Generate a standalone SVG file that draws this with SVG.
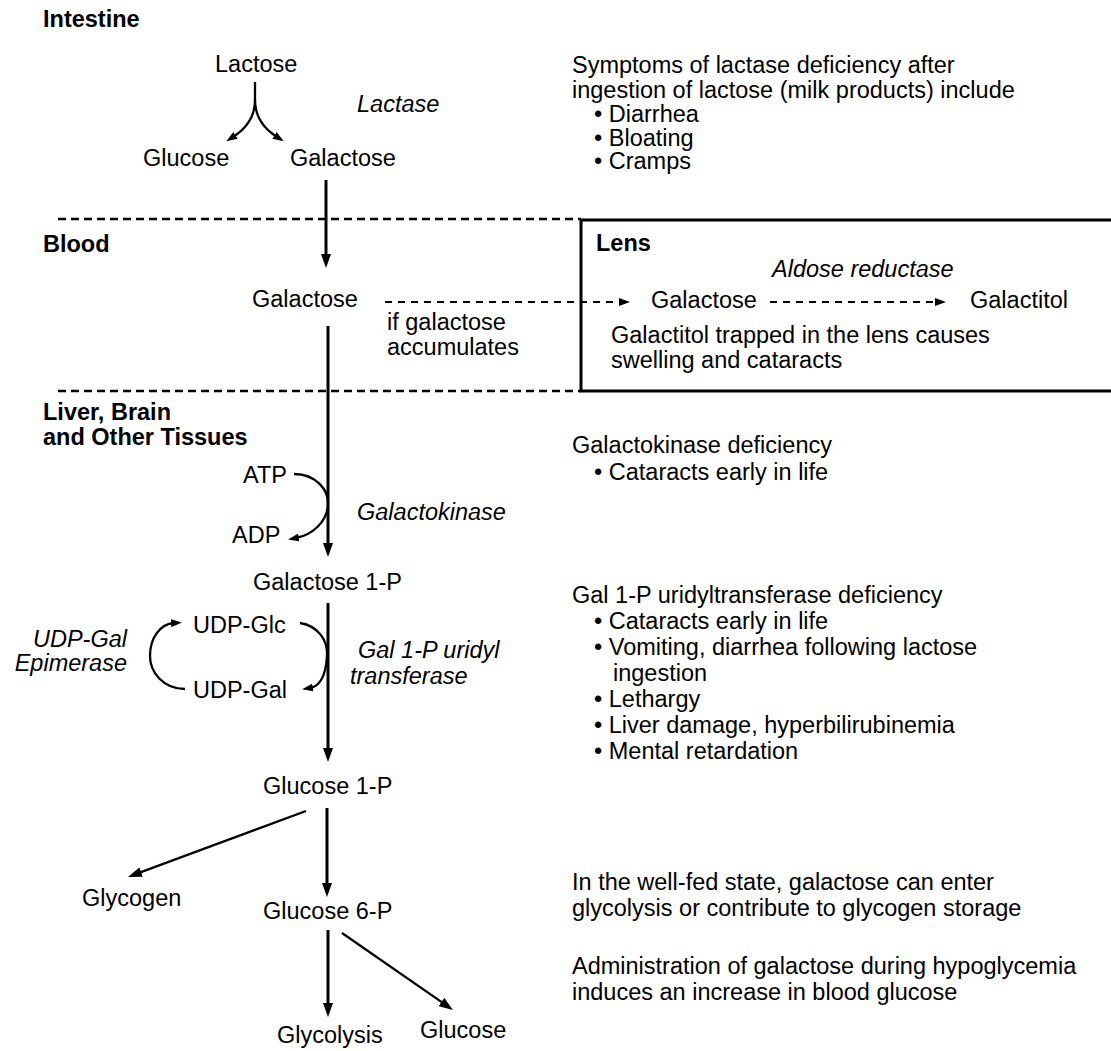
<svg xmlns="http://www.w3.org/2000/svg" width="1111" height="1051" viewBox="0 0 1111 1051">
<style>
text{font-family:"Liberation Sans",Arial,Helvetica,sans-serif;font-size:23.5px;fill:#000}
.b{font-weight:bold}
.i{font-style:italic}
.ln{stroke:#000;stroke-width:3;fill:none}
.thin{stroke:#000;stroke-width:2.3;fill:none}
.dash{stroke:#000;stroke-width:2.5;fill:none;stroke-dasharray:8 5}
.darr{stroke:#000;stroke-width:2.2;fill:none;stroke-dasharray:7 6}
</style>
<defs>
<marker id="ah" markerWidth="14" markerHeight="10" refX="6" refY="5" orient="auto" markerUnits="userSpaceOnUse"><path d="M0,0 L14,5 L0,10 z" fill="#000"/></marker>
<marker id="ahs" markerWidth="11" markerHeight="8" refX="3" refY="4" orient="auto" markerUnits="userSpaceOnUse"><path d="M0,0 L11,4 L0,8 z" fill="#000"/></marker>
</defs>
<rect width="1111" height="1051" fill="#fff"/>

<g id="regions">
<line class="dash" x1="58" y1="219" x2="581" y2="219"/>
<line class="dash" x1="58" y1="391" x2="581" y2="391"/>
<text class="b" x="43" y="27">Intestine</text>
<text class="b" x="43" y="252">Blood</text>
<text class="b" x="43" y="420">Liver, Brain</text>
<text class="b" x="43" y="445">and Other Tissues</text>
</g>

<g id="lens-box">
<rect x="581" y="220" width="560" height="171" fill="none" stroke="#000" stroke-width="3"/>
<text class="b" x="596" y="251">Lens</text>
<text class="i" x="772" y="277">Aldose reductase</text>
<text x="611" y="343">Galactitol trapped in the lens causes</text>
<text x="611" y="368">swelling and cataracts</text>
</g>

<g id="connectors">
<path class="thin" d="M255,82 L255,100 C255,118 244,130 233,137" marker-end="url(#ahs)"/>
<path class="thin" d="M255,100 C255,118 266,130 277,137" marker-end="url(#ahs)"/>
<line class="ln" x1="326" y1="180" x2="326" y2="260" marker-end="url(#ah)"/>
<line class="darr" x1="385" y1="302" x2="622" y2="302" marker-end="url(#ahs)"/>
<line class="darr" x1="770" y1="302" x2="938" y2="302" marker-end="url(#ahs)"/>
<line class="ln" x1="328" y1="326" x2="328" y2="549" marker-end="url(#ah)"/>
<path class="thin" d="M294,474 C316,474 329,490 328,505 C327,522 312,535 296,538" marker-end="url(#ahs)"/>
<line class="ln" x1="328" y1="603" x2="328" y2="754" marker-end="url(#ah)"/>
<path class="thin" d="M185,689 C163,689 150,672 150,656 C150,638 160,624 174,623" marker-end="url(#ahs)"/>
<path class="thin" d="M300,623 C318,626 328,640 327,656 C326,672 322,686 310,688" marker-end="url(#ahs)"/>
<line class="thin" x1="306" y1="811" x2="135.5" y2="874.2" marker-end="url(#ah)"/>
<line class="ln" x1="327" y1="808" x2="327" y2="889" marker-end="url(#ah)"/>
<line class="ln" x1="328" y1="930" x2="328" y2="1009" marker-end="url(#ah)"/>
<line class="thin" x1="342" y1="933" x2="446.4" y2="1005.4" marker-end="url(#ah)"/>
</g>

<g id="n-lactose"><text x="215" y="72">Lactose</text></g>
<g id="e-lactase"><text class="i" x="357" y="112">Lactase</text></g>
<g id="n-glucose-int"><text x="143" y="166">Glucose</text></g>
<g id="n-galactose-int"><text x="290" y="166">Galactose</text></g>
<g id="n-galactose-blood"><text x="252" y="307">Galactose</text></g>
<g id="l-accumulates"><text x="387" y="330">if galactose</text><text x="387" y="355">accumulates</text></g>
<g id="n-galactose-lens"><text x="651" y="308">Galactose</text></g>
<g id="n-galactitol"><text x="970" y="308">Galactitol</text></g>
<g id="n-atp"><text x="243" y="483">ATP</text></g>
<g id="n-adp"><text x="232" y="543">ADP</text></g>
<g id="e-galactokinase"><text class="i" x="357" y="520">Galactokinase</text></g>
<g id="n-gal1p"><text x="253" y="590">Galactose 1-P</text></g>
<g id="n-udpglc"><text x="193" y="633">UDP-Glc</text></g>
<g id="n-udpgal"><text x="193" y="698">UDP-Gal</text></g>
<g id="e-epimerase"><text class="i" x="127" y="647" text-anchor="end">UDP-Gal</text><text class="i" x="127" y="671" text-anchor="end">Epimerase</text></g>
<g id="e-uridyl"><text class="i" x="358" y="658">Gal 1-P uridyl</text><text class="i" x="350" y="684">transferase</text></g>
<g id="n-glc1p"><text x="263" y="794">Glucose 1-P</text></g>
<g id="n-glycogen"><text x="82" y="906">Glycogen</text></g>
<g id="n-glc6p"><text x="263" y="919">Glucose 6-P</text></g>
<g id="n-glycolysis"><text x="277" y="1043">Glycolysis</text></g>
<g id="n-glucose-out"><text x="420" y="1038">Glucose</text></g>

<g id="notes">
<text x="572" y="73">Symptoms of lactase deficiency after</text>
<text x="572" y="98">ingestion of lactose (milk products) include</text>
<text x="594" y="122">• Diarrhea</text>
<text x="594" y="145.5">• Bloating</text>
<text x="594" y="169">• Cramps</text>
<text x="572" y="453">Galactokinase deficiency</text>
<text x="594" y="480">• Cataracts early in life</text>
<text x="572" y="603">Gal 1-P uridyltransferase deficiency</text>
<text x="594" y="629">• Cataracts early in life</text>
<text x="594" y="655">• Vomiting, diarrhea following lactose</text>
<text x="613" y="681">ingestion</text>
<text x="594" y="707">• Lethargy</text>
<text x="594" y="733">• Liver damage, hyperbilirubinemia</text>
<text x="594" y="759">• Mental retardation</text>
<text x="572" y="890">In the well-fed state, galactose can enter</text>
<text x="572" y="916">glycolysis or contribute to glycogen storage</text>
<text x="572" y="974">Administration of galactose during hypoglycemia</text>
<text x="572" y="1000">induces an increase in blood glucose</text>
</g>
</svg>
